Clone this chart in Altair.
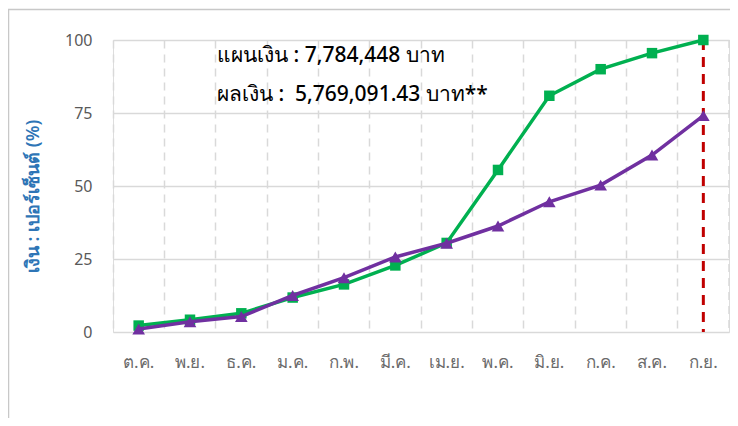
import altair as alt
import pandas as pd

months = ["ต.ค.", "พ.ย.", "ธ.ค.", "ม.ค.", "ก.พ.", "มี.ค.", "เม.ย.", "พ.ค.", "มิ.ย.", "ก.ค.", "ส.ค.", "ก.ย."]
plan = [2.2, 4.2, 6.4, 11.8, 16.3, 22.8, 30.5, 55.5, 80.9, 90.0, 95.5, 100.0]
actual = [1.0, 3.5, 5.3, 12.5, 18.6, 25.7, 30.4, 36.3, 44.6, 50.3, 60.6, 74.1]
y_ticks = [0, 25, 50, 75, 100]
marker_month = ["ก.ย."]
note_lines = ["แผนเงิน : 7,784,448 บาท", "ผลเงิน :\u00a0 5,769,091.43 บาท**"]
y_title = "เงิน : เปอร์เซ็นต์ (%)"

W, H = 616, 292
FONT = "Noto Sans"

df_plan = pd.DataFrame({"month": months, "value": plan})
df_act = pd.DataFrame({"month": months, "value": actual})

x_enc = alt.X("month:N", sort=months, scale=alt.Scale(paddingInner=0, paddingOuter=0),
              axis=alt.Axis(title=None, labelAngle=0, domain=False, ticks=False, grid=True,
                            bandPosition=0, gridDash=[8, 6], gridColor="#D9D9D9", gridWidth=1.5,
                            labelFontSize=17, labelColor="#6B6B6B", labelPadding=22, labelFont=FONT))
y_enc = alt.Y("value:Q", scale=alt.Scale(domain=[0, 100], nice=False),
              axis=alt.Axis(title=y_title, values=y_ticks, domain=False, ticks=False, grid=True,
                            gridColor="#D9D9D9", gridWidth=1.5, labelFontSize=16, labelColor="#595959",
                            labelPadding=21, labelFont=FONT,
                            titleColor="#2E75B6", titleFontSize=18, titleFontWeight=600,
                            titleFont=FONT, titleX=-80, titleY=156, titleAngle=270,
                            titleAlign="center", titleBaseline="middle"))

base_plan = alt.Chart(df_plan)
base_act = alt.Chart(df_act)

plan_line = base_plan.mark_line(color="#00B050", strokeWidth=3.5).encode(x=x_enc, y=y_enc)
plan_pts = base_plan.mark_point(shape="square", filled=True, opacity=1, size=110, color="#00B050").encode(
    x=alt.X("month:N", sort=months), y="value:Q")
act_line = base_act.mark_line(color="#7030A0", strokeWidth=3.5).encode(x=alt.X("month:N", sort=months), y="value:Q")
act_pts = base_act.mark_point(shape="triangle-up", filled=True, opacity=1, size=160, color="#7030A0").encode(
    x=alt.X("month:N", sort=months), y="value:Q")

red_rule = alt.Chart(pd.DataFrame({"month": marker_month})).mark_rule(
    color="#C00000", strokeWidth=3, strokeDash=[10, 7]).encode(
    x=alt.X("month:N", sort=months), y=alt.value(0), y2=alt.value(H))

right_grid = alt.Chart(pd.DataFrame({"k": [0]})).mark_rule(
    color="#D9D9D9", strokeWidth=1.5, strokeDash=[8, 6]).encode(
    x=alt.value(W), y=alt.value(0), y2=alt.value(H))

frame = alt.Chart(pd.DataFrame({"k": [0]})).mark_rect(
    filled=False, stroke="#C8C8C8", strokeWidth=1.5).encode(
    x=alt.value(-104.5), x2=alt.value(W + 40), y=alt.value(-30.5), y2=alt.value(H + 120))

note1 = alt.Chart(pd.DataFrame({"t": [note_lines[0]]})).mark_text(
    align="left", baseline="alphabetic", fontSize=21, fontWeight=500, font=FONT, color="#000000").encode(
    text="t:N", x=alt.value(104), y=alt.value(22))
note2 = alt.Chart(pd.DataFrame({"t": [note_lines[1]]})).mark_text(
    align="left", baseline="alphabetic", fontSize=21, fontWeight=500, font=FONT, color="#000000").encode(
    text="t:N", x=alt.value(104), y=alt.value(61))

chart = alt.layer(
    plan_line, right_grid, red_rule, plan_pts, act_line, act_pts, frame, note1, note2
).properties(
    width=W, height=H,
    autosize=alt.AutoSizeParams(type="none"),
    padding={"left": 105, "top": 32, "right": 1, "bottom": 86},
).configure_view(stroke=None).configure(background="white")

chart.save("out.html", embed_options={"renderer": "svg", "actions": False})
